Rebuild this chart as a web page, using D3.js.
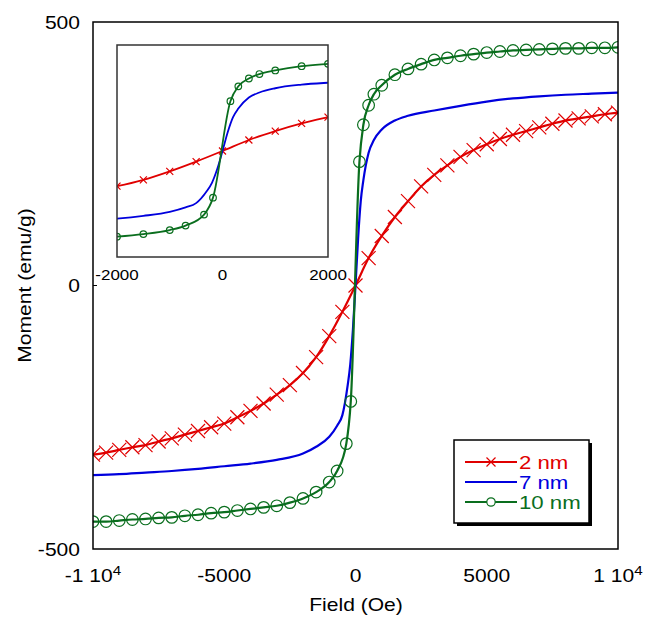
<!DOCTYPE html>
<html>
<head>
<meta charset="utf-8">
<script src="https://cdn.jsdelivr.net/npm/d3@7"></script>
<style>
  body { margin: 0; background: #fff; }
  svg text { font-family: "Liberation Sans", Arial, sans-serif; }
</style>
</head>
<body>
<svg id="chart"></svg>
<script>
// moment (emu/g) vs field (Oe)
const red2nm = [[-10000,-321],[-9500,-317],[-9000,-312],[-8500,-307],[-8000,-303],[-7500,-296],[-7000,-290],[-6500,-283],[-6000,-276],[-5500,-269],[-5000,-262],[-4500,-250],[-4000,-238],[-3500,-224],[-3000,-207],[-2500,-189],[-2000,-166],[-1500,-136],[-1000,-96],[-500,-50],[0,0],[500,52],[1000,94],[1500,130],[2000,160],[2500,188],[3000,210],[3500,228],[4000,244],[4500,257],[5000,268],[5500,278],[6000,286],[6500,293],[7000,300],[7500,307],[8000,313],[8500,317],[9000,321],[9500,325],[10000,328]];
const blue7nm = [[-10000,-360],[-9000,-358],[-8000,-355],[-7000,-352],[-6000,-348],[-5000,-343],[-4000,-338],[-3000,-331],[-2000,-319],[-1500,-306],[-1000,-287],[-700,-266],[-500,-246],[-300,-190],[-200,-150],[-100,-85],[0,0],[100,90],[200,160],[300,200],[500,252],[700,276],[1000,296],[1500,313],[2000,322],[3000,332],[4000,341],[5000,349],[6000,355],[7000,359],[8000,362],[9000,364],[10000,366]];
const green10nm = [[-10000,-448],[-9500,-448],[-9000,-446],[-8500,-444],[-8000,-443],[-7500,-441],[-7000,-440],[-6500,-437],[-6000,-435],[-5500,-432],[-5000,-430],[-4500,-427],[-4000,-424],[-3500,-421],[-3000,-418],[-2500,-412],[-2000,-404],[-1500,-392],[-1000,-373],[-700,-352],[-350,-300],[-180,-220],[150,235],[300,305],[500,342],[700,363],[1000,380],[1500,400],[2000,411],[2500,420],[3000,428],[3500,432],[4000,436],[4500,439],[5000,442],[5500,444],[6000,446],[6500,447],[7000,448],[7500,449],[8000,450],[8500,450],[9000,451],[9500,451],[10000,452]];

const seriesNames = ["2 nm", "7 nm", "10 nm"];
const seriesColors = ["#e00000", "#0000dd", "#0a6e1e"];
const xTicks = [-10000, -5000, 0, 5000, 10000];
const xTickText = [["-1 10", "4"], ["-5000", ""], ["0", ""], ["5000", ""], ["1 10", "4"]];
const yTicks = [-500, 0, 500];
const insetTicks = [-2000, 0, 2000];

const width = 649, height = 617;
const SX = 1.17; // text in the figure is a bit wide

const svg = d3.select("#chart").attr("width", width).attr("height", height);

const x = d3.scaleLinear().domain([-10000, 10000]).range([93, 618]);
const y = d3.scaleLinear().domain([-500, 500]).range([549, 22]);
const xi = d3.scaleLinear().domain([-2000, 2000]).range([117, 328]);
const yi = d3.scaleLinear().domain([-500, 500]).range([257, 45]);

function wideText(g, tx, ty, size, anchor) {
    return g.append("text")
        .attr("transform", `translate(${tx},${ty}) scale(${SX},1)`)
        .attr("text-anchor", anchor)
        .style("font-size", size + "px");
}

function crossPath(s) {
    return `M${-s},${-s}L${s},${s}M${-s},${s}L${s},${-s}`;
}

svg.append("defs").append("clipPath").attr("id", "mainClip")
    .append("rect").attr("x", 93).attr("y", 22).attr("width", 525).attr("height", 527);
svg.select("defs").append("clipPath").attr("id", "insetClip")
    .append("rect").attr("x", 117).attr("y", 45).attr("width", 211).attr("height", 212);

function drawCurves(g, xs, ys, big) {
    const line = d3.line().x(d => xs(d[0])).y(d => ys(d[1])).curve(d3.curveMonotoneX);
    const lw = big ? 2.2 : 1.8;

    g.append("path").datum(red2nm).attr("d", line)
        .attr("fill", "none").attr("stroke", seriesColors[0]).attr("stroke-width", lw);
    g.selectAll("path.xm").data(red2nm).enter().append("path")
        .attr("class", "xm")
        .attr("transform", d => `translate(${xs(d[0])},${ys(d[1])})`)
        .attr("d", crossPath(big ? 7 : 3.5))
        .attr("stroke", seriesColors[0]).attr("stroke-width", 1.2).attr("fill", "none");

    g.append("path").datum(blue7nm).attr("d", line)
        .attr("fill", "none").attr("stroke", seriesColors[1]).attr("stroke-width", lw);

    g.append("path").datum(green10nm).attr("d", line)
        .attr("fill", "none").attr("stroke", seriesColors[2]).attr("stroke-width", lw);
    g.selectAll("circle").data(green10nm).enter().append("circle")
        .attr("cx", d => xs(d[0])).attr("cy", d => ys(d[1]))
        .attr("r", big ? 5.8 : 3.3)
        .attr("fill", "none").attr("stroke", seriesColors[2]).attr("stroke-width", 1.2);
}

// main plot
const mainG = svg.append("g").attr("clip-path", "url(#mainClip)");
drawCurves(mainG, x, y, true);

svg.append("rect").attr("x", 93).attr("y", 22).attr("width", 525).attr("height", 527)
    .attr("fill", "none").attr("stroke", "#000").attr("stroke-width", 1.5);
svg.append("line").attr("x1", 93).attr("x2", 97).attr("y1", y(0)).attr("y2", y(0))
    .attr("stroke", "#000").attr("stroke-width", 1);

yTicks.forEach(v => {
    wideText(svg, 80, y(v) + 6.5, 18, "end").text(v);
});
xTicks.forEach((v, i) => {
    const t = wideText(svg, x(v), 582, 18, "middle");
    t.append("tspan").text(xTickText[i][0]);
    if (xTickText[i][1]) {
        t.append("tspan").attr("dy", -7).style("font-size", "13px").text(xTickText[i][1]);
    }
});

wideText(svg, 356, 611, 18, "middle").text("Field (Oe)");
svg.append("text")
    .attr("transform", `translate(31,${y(0)}) rotate(-90) scale(${SX},1)`)
    .attr("text-anchor", "middle")
    .style("font-size", "18px")
    .text("Moment (emu/g)");

// inset
svg.append("rect").attr("x", 117).attr("y", 45).attr("width", 211).attr("height", 212)
    .attr("fill", "#fff");
const insetG = svg.append("g").attr("clip-path", "url(#insetClip)");
drawCurves(insetG, xi, yi, false);
svg.append("rect").attr("x", 117).attr("y", 45).attr("width", 211).attr("height", 212)
    .attr("fill", "none").attr("stroke", "#333").attr("stroke-width", 1.5);
insetTicks.forEach(v => {
    wideText(svg, xi(v), 280, 14.5, "middle").text(v);
});

// legend
const legend = svg.append("g").attr("transform", "translate(454,440)");
legend.append("rect").attr("x", 3).attr("y", 3).attr("width", 135).attr("height", 83).attr("fill", "#000");
legend.append("rect").attr("width", 135).attr("height", 83)
    .attr("fill", "#fff").attr("stroke", "#000").attr("stroke-width", 1.5);
seriesNames.forEach((name, i) => {
    const ly = 22 + i * 20;
    legend.append("line").attr("x1", 11).attr("x2", 63).attr("y1", ly).attr("y2", ly)
        .attr("stroke", seriesColors[i]).attr("stroke-width", 2);
    if (i === 0) {
        legend.append("path").attr("transform", `translate(37,${ly})`).attr("d", crossPath(4.5))
            .attr("stroke", seriesColors[i]).attr("stroke-width", 1.2).attr("fill", "none");
    }
    if (i === 2) {
        legend.append("circle").attr("cx", 37).attr("cy", ly).attr("r", 4.2)
            .attr("fill", "#fff").attr("stroke", seriesColors[i]).attr("stroke-width", 1.2);
    }
    wideText(legend, 65, ly + 7, 19, "start").attr("fill", seriesColors[i]).text(name);
});
</script>
</body>
</html>
